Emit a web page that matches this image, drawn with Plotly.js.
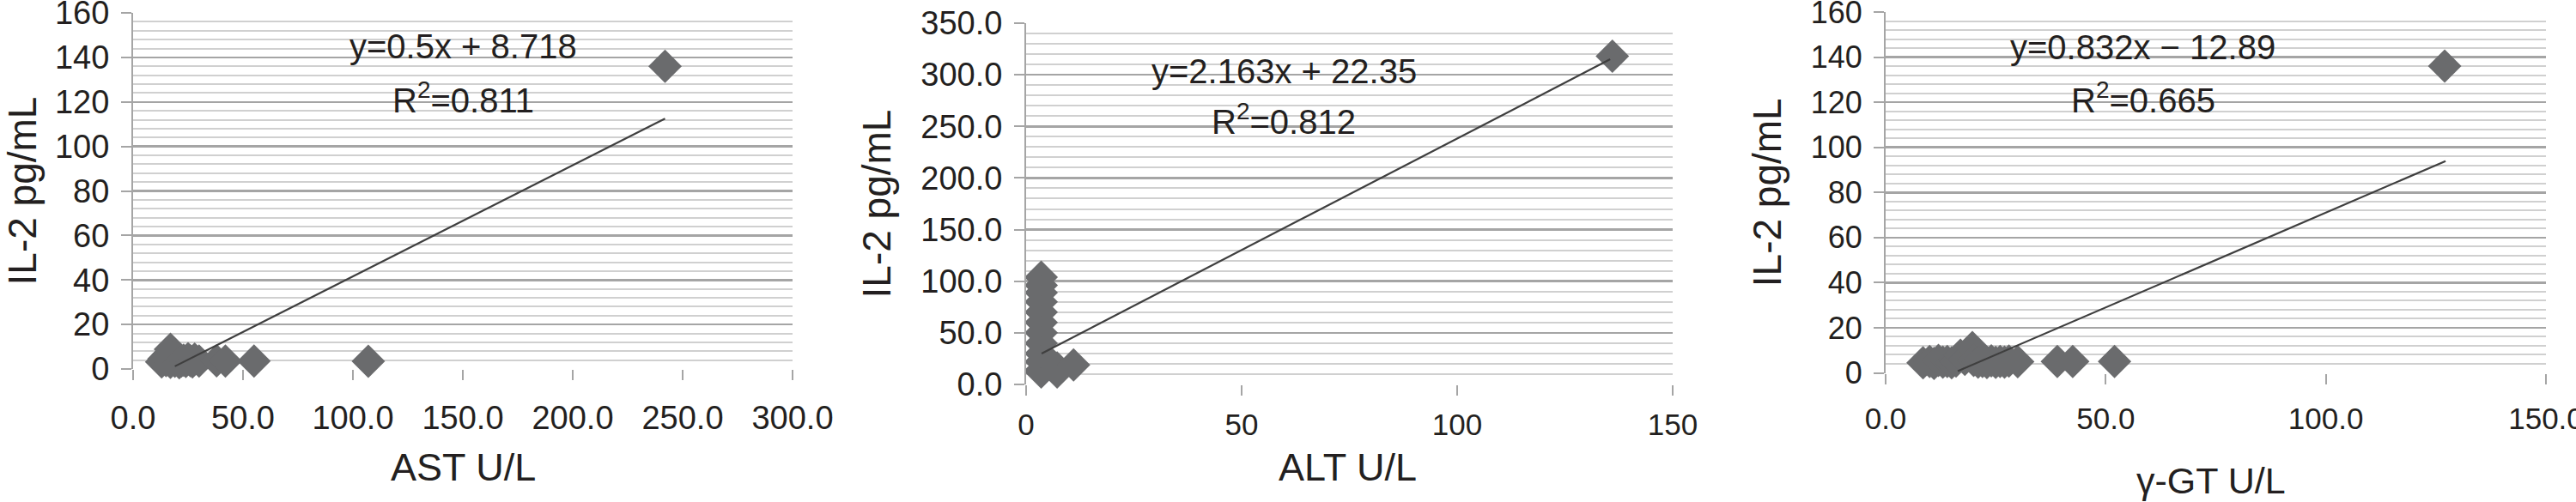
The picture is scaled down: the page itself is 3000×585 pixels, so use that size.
<!DOCTYPE html>
<html>
<head>
<meta charset="utf-8">
<script src="https://cdn.plot.ly/plotly-3.0.1.min.js"></script>
<style>
  html, body { margin: 0; padding: 0; background: #fff; }
  #plotField { width: 3000px; height: 585px; }
</style>
</head>
<body>
<div id="plotField"></div>
<script>
// AST vs IL-2
var astX = [13, 14, 15, 16, 17, 17, 18, 19, 20, 21, 22, 23, 24, 25, 26, 27, 28, 30, 38, 42, 55, 107, 242];
var astY = [3.2, 4.5, 3.8, 6.5, 8.9, 3.0, 5.0, 3.5, 4.2, 2.8, 3.6, 4.0, 3.4, 4.6, 3.8, 3.2, 4.4, 3.6, 3.7, 3.6, 3.6, 3.5, 136];
var astTrendX = [19, 242];
var astTrendY = [1.2, 112.5];

// ALT vs IL-2
var altX = [3.5, 3.5, 3.5, 3.5, 3.5, 3.5, 3.5, 3.5, 3.5, 3.5, 3.5, 3.5, 7.2, 7.2, 11, 136];
var altY = [104, 96, 89, 80, 70, 60, 50, 40, 30, 22, 14, 12, 12, 16, 19, 318];
var altTrendX = [3.6, 135.5];
var altTrendY = [30, 315];

// gamma-GT vs IL-2
var ggtX = [8.5, 10, 11, 12, 13, 14, 15, 16, 17, 18, 19.7, 20, 21, 22, 23, 24, 25, 26, 27, 28, 30, 39, 42.5, 52, 127];
var ggtY = [4.5, 5, 4.2, 5.5, 4.8, 5, 4.5, 5.2, 7.8, 6, 11.2, 5.5, 4.8, 5, 4.6, 5.3, 4.7, 5, 4.8, 5.2, 4.9, 5, 5, 5, 136];
var ggtTrendX = [16.4, 127.2];
var ggtTrendY = [0.8, 93.9];

var xTitles = ['AST U/L', 'ALT U/L', 'γ-GT U/L'];
var yTitle = 'IL-2 pg/mL';
var equations = ['y=0.5x + 8.718', 'y=2.163x + 22.35', 'y=0.832x − 12.89'];
var rSquared = ['R<sup>2</sup>=0.811', 'R<sup>2</sup>=0.812', 'R<sup>2</sup>=0.665'];

var txt = '#231f20';
var font = 'Liberation Sans, Arial, sans-serif';
var markerColor = '#6a6b6d';
var trendColor = '#3f3f3f';

function points(x, y, n) {
    return {
        x: x, y: y, xaxis: 'x' + n, yaxis: 'y' + n,
        mode: 'markers', type: 'scatter', cliponaxis: false,
        marker: {symbol: 'diamond', size: 30, color: markerColor, line: {width: 0}},
        hoverinfo: 'x+y'
    };
}
function trend(x, y, n) {
    return {
        x: x, y: y, xaxis: 'x' + n, yaxis: 'y' + n,
        mode: 'lines', type: 'scatter', cliponaxis: false,
        line: {color: trendColor, width: 2.2}
    };
}

var data = [
    points(astX, astY, ''), trend(astTrendX, astTrendY, ''),
    points(altX, altY, '2'), trend(altTrendX, altTrendY, '2'),
    points(ggtX, ggtY, '3'), trend(ggtTrendX, ggtTrendY, '3')
];

function xAxis(dom, range, dtick, fmt, fs, anchor, standoff) {
    return {
        domain: dom, range: range, dtick: dtick, tick0: 0, tickformat: fmt,
        anchor: anchor, showgrid: false, zeroline: false, showline: false,
        ticks: 'outside', ticklen: 12, tickwidth: 2, tickcolor: '#a5a5a5',
        tickfont: {family: font, size: fs, color: txt},
        ticklabelstandoff: standoff, ticklabeloverflow: 'allow'
    };
}
function yAxis(dom, range, dtick, minorTick, fmt, fs, anchor) {
    return {
        domain: dom, range: range, dtick: dtick, tick0: 0, tickformat: fmt,
        anchor: anchor, zeroline: false,
        showline: true, linecolor: '#a5a5a5', linewidth: 2,
        showgrid: true, gridcolor: '#a5a5a5', gridwidth: 2.5,
        minor: {dtick: minorTick, showgrid: true, gridcolor: '#d0d0d0', gridwidth: 2},
        ticks: 'outside', ticklen: 12, tickwidth: 2, tickcolor: '#a5a5a5',
        tickfont: {family: font, size: fs, color: txt},
        ticklabelstandoff: 6, ticklabeloverflow: 'allow',
        title: {text: yTitle, font: {family: font, size: 46, color: txt}, standoff: 20}
    };
}

var W = 3000, H = 585;
function xd(a, b) { return [a / W, b / W]; }
function yd(top, bottom) { return [1 - bottom / H, 1 - top / H]; }

var layout = {
    width: W, height: H,
    margin: {l: 0, r: 0, t: 0, b: 0},
    paper_bgcolor: '#fff', plot_bgcolor: '#fff',
    showlegend: false,
    xaxis: xAxis(xd(155, 923), [0, 300], 50, '.1f', 38, 'y', 11),
    yaxis: yAxis(yd(15, 430), [0, 160], 20, 4, 'd', 38, 'x'),
    xaxis2: xAxis(xd(1195, 1948), [0, 150], 50, 'd', 35, 'y2', 4),
    yaxis2: yAxis(yd(27, 448), [0, 350], 50, 10, '.1f', 38, 'x2'),
    xaxis3: xAxis(xd(2196, 2965), [0, 150], 50, '.1f', 35, 'y3', 10),
    yaxis3: yAxis(yd(14, 434.5), [0, 160], 20, 4, 'd', 36, 'x3'),
    annotations: []
};

// equation label centres inside each plot (domain fractions)
var eqPos = [[0.5, 0.905, 0.762], [0.399, 0.868, 0.733], [0.39, 0.903, 0.763]];
var suffix = ['', '2', '3'];
for (var i = 0; i < 3; i++) {
    layout.annotations.push({
        xref: 'x' + suffix[i] + ' domain', yref: 'y' + suffix[i] + ' domain',
        x: eqPos[i][0], y: eqPos[i][1], xanchor: 'center', yanchor: 'middle',
        text: equations[i], showarrow: false,
        font: {family: font, size: 40, color: txt}
    });
    layout.annotations.push({
        xref: 'x' + suffix[i] + ' domain', yref: 'y' + suffix[i] + ' domain',
        x: eqPos[i][0], y: eqPos[i][2], xanchor: 'center', yanchor: 'middle',
        text: rSquared[i], showarrow: false,
        font: {family: font, size: 40, color: txt}
    });
}

// x-axis titles: [centre x px, centre y px, font size]
var xTitlePos = [[539, 544, 45], [1569, 544, 45], [2575, 560, 43]];
for (var j = 0; j < 3; j++) {
    layout.annotations.push({
        xref: 'paper', yref: 'paper', x: xTitlePos[j][0] / W, y: 1 - xTitlePos[j][1] / H,
        xanchor: 'center', yanchor: 'middle', text: xTitles[j], showarrow: false,
        font: {family: font, size: xTitlePos[j][2], color: txt}
    });
}

var config = {responsive: false, displayModeBar: false, staticPlot: true};
Plotly.newPlot('plotField', data, layout, config);
</script>
</body>
</html>
